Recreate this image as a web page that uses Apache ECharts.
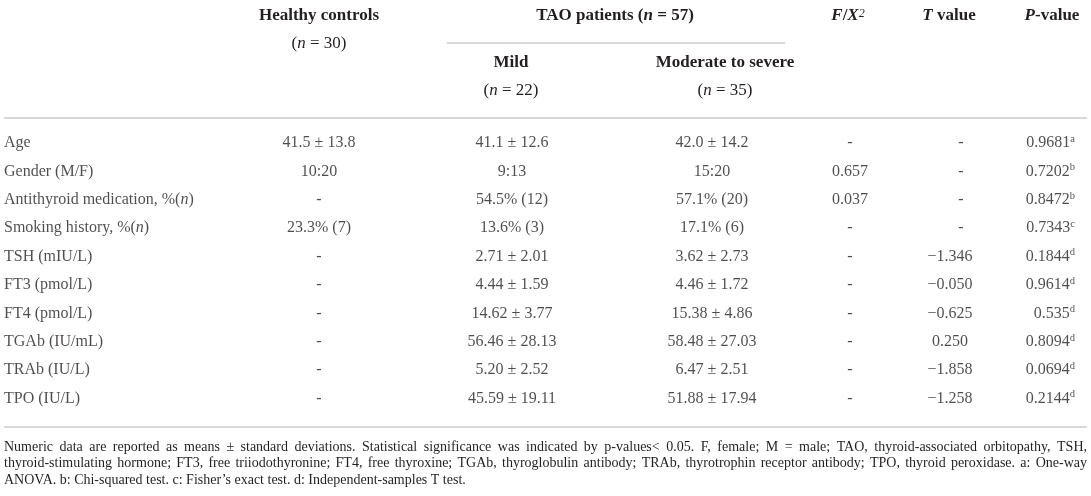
<!DOCTYPE html>
<html><head><meta charset="utf-8">
<script src="https://cdn.jsdelivr.net/npm/echarts@6/dist/echarts.min.js"></script>
<style>html,body{margin:0;padding:0;background:#fff}#c{width:1091px;height:496px}</style>
</head><body><div id="c"></div>
<script>
// ---------- data ----------
const rowLabels = ['Age','Gender (M/F)','Antithyroid medication, %(n)','Smoking history, %(n)','TSH (mIU/L)','FT3 (pmol/L)','FT4 (pmol/L)','TGAb (IU/mL)','TRAb (IU/L)','TPO (IU/L)'];
const healthyControls = ['41.5 ± 13.8','10:20','-','23.3% (7)','-','-','-','-','-','-'];
const mildTAO = ['41.1 ± 12.6','9:13','54.5% (12)','13.6% (3)','2.71 ± 2.01','4.44 ± 1.59','14.62 ± 3.77','56.46 ± 28.13','5.20 ± 2.52','45.59 ± 19.11'];
const moderateSevereTAO = ['42.0 ± 14.2','15:20','57.1% (20)','17.1% (6)','3.62 ± 2.73','4.46 ± 1.72','15.38 ± 4.86','58.48 ± 27.03','6.47 ± 2.51','51.88 ± 17.94'];
const fX2Values = ['-','0.657','0.037','-','-','-','-','-','-','-'];
const tValues = ['-','-','-','-','−1.346','−0.050','−0.625','0.250','−1.858','−1.258'];
const pValues = ['0.9681','0.7202','0.8472','0.7343','0.1844','0.9614','0.535','0.8094','0.0694','0.2144'];
const pTests = ['a','b','b','c','d','d','d','d','d','d'];
const footnoteLines = [
  'Numeric data are reported as means ± standard deviations. Statistical significance was indicated by p-values< 0.05. F, female; M = male; TAO, thyroid-associated orbitopathy, TSH,',
  'thyroid-stimulating hormone; FT3, free triiodothyronine; FT4, free thyroxine; TGAb, thyroglobulin antibody; TRAb, thyrotrophin receptor antibody; TPO, thyroid peroxidase. a: One-way',
  'ANOVA. b: Chi-squared test. c: Fisher’s exact test. d: Independent-samples T test.'
];

// ---------- layout / style ----------
const W = 1091, H = 496;
const FONT = "'Liberation Serif','Times New Roman',serif";
const INK = '#231f20';
const RULE = '#cbcbcb';
const FS = 16;
const HFS = 17;
const NFS = 14;
const COL_X = {label: 4, healthy: 319, mild: 512, moderate: 712, fx2: 850, t: 950, p: 1075};
const ROW_TOP = 128.8, ROW_H = 28.4;
const TABLE_L = 4, TABLE_R = 1087;

const baseRich = {
  i: {fontFamily: FONT, fontSize: FS, fontStyle: 'italic', color: INK},
  s: {fontFamily: FONT, fontSize: 10.5, color: INK, verticalAlign: 'top', lineHeight: 12},
  v: {fontFamily: FONT, fontSize: FS, color: INK, lineHeight: 19}
};

function cellSeries(values, x, align, fmt, dashOffset) {
  return {
    type: 'scatter',
    symbolSize: 1,
    itemStyle: {color: 'rgba(0,0,0,0)'},
    silent: true,
    data: values.map((v, i) => {
      const d = {value: [x, rowLabels[i]]};
      if (dashOffset && v === '-') d.label = {offset: [dashOffset, 0]};
      return d;
    }),
    label: {
      show: true,
      position: 'inside',
      align: align,
      verticalAlign: 'middle',
      fontFamily: FONT,
      fontSize: FS,
      color: INK,
      rich: baseRich,
      formatter: p => fmt ? fmt(p.dataIndex) : values[p.dataIndex]
    }
  };
}

const series = [
  cellSeries(rowLabels, COL_X.label, 'left', i => rowLabels[i].replace('(n)', '({i|n})')),
  cellSeries(healthyControls, COL_X.healthy, 'center'),
  cellSeries(mildTAO, COL_X.mild, 'center'),
  cellSeries(moderateSevereTAO, COL_X.moderate, 'center'),
  cellSeries(fX2Values, COL_X.fx2, 'center'),
  cellSeries(tValues, COL_X.t, 'center', null, 11),
  cellSeries(pValues, COL_X.p, 'right', i => '{v|' + pValues[i] + '}{s|' + pTests[i] + '}')
];

const hdrRich = {
  b: {fontFamily: FONT, fontSize: HFS, fontWeight: 'bold', fill: INK},
  bi: {fontFamily: FONT, fontSize: HFS, fontWeight: 'bold', fontStyle: 'italic', fill: INK},
  i: {fontFamily: FONT, fontSize: HFS, fontStyle: 'italic', fill: INK},
  r: {fontFamily: FONT, fontSize: HFS, fill: INK},
  sup: {fontFamily: FONT, fontSize: 12, fontStyle: 'italic', fill: INK, verticalAlign: 'top', lineHeight: 13}
};
function hText(x, y, text) {
  return {type: 'text', x: x, y: y, silent: true,
    style: {text: text, rich: hdrRich, align: 'center', verticalAlign: 'middle', fontFamily: FONT, fontSize: HFS, fill: INK}};
}
function hLine(x1, x2, y) {
  return {type: 'line', silent: true, shape: {x1: x1, y1: y, x2: x2, y2: y}, style: {stroke: RULE, lineWidth: 1.6}};
}

// justified footnote: word positions computed from measured text widths
const measureCtx = document.createElement('canvas').getContext('2d');
measureCtx.font = NFS + 'px ' + FONT;
function footnoteElements(lines, y0, lh) {
  const els = [];
  lines.forEach((line, k) => {
    const y = y0 + k * lh;
    const last = k === lines.length - 1;
    if (last) {
      els.push({type: 'text', x: TABLE_L, y: y, silent: true,
        style: {text: line, align: 'left', verticalAlign: 'middle', fontFamily: FONT, fontSize: NFS, fill: INK}});
      return;
    }
    const words = line.split(' ');
    const widths = words.map(w => measureCtx.measureText(w).width);
    const total = widths.reduce((a, b) => a + b, 0);
    const gap = (TABLE_R - TABLE_L - total) / (words.length - 1);
    let x = TABLE_L;
    words.forEach((w, j) => {
      els.push({type: 'text', x: x, y: y, silent: true,
        style: {text: w, align: 'left', verticalAlign: 'middle', fontFamily: FONT, fontSize: NFS, fill: INK}});
      x += widths[j] + gap;
    });
  });
  return els;
}

const graphic = [
  hText(319, 16, '{b|Healthy controls}'),
  hText(319, 44, '{r|(}{i|n}{r| = 30)}'),
  hText(615, 16, '{b|TAO patients (}{bi|n}{b| = 57)}'),
  hLine(447, 785, 43),
  hText(511, 63, '{b|Mild}'),
  hText(511, 91, '{r|(}{i|n}{r| = 22)}'),
  hText(725, 63, '{b|Moderate to severe}'),
  hText(725, 91, '{r|(}{i|n}{r| = 35)}'),
  hText(848, 16, '{bi|F}{b|/}{bi|X}{sup|2}'),
  hText(949, 16, '{bi|T}{b| value}'),
  hText(1052, 16, '{bi|P}{b|-value}'),
  hLine(TABLE_L, TABLE_R, 118),
  hLine(TABLE_L, TABLE_R, 427)
].concat(footnoteElements(footnoteLines, 447, 16.5));

const chart = echarts.init(document.getElementById('c'), null, {renderer: 'canvas'});
chart.setOption({
  animation: false,
  backgroundColor: '#fff',
  grid: {left: 0, right: 0, top: ROW_TOP, height: ROW_H * rowLabels.length},
  xAxis: {type: 'value', min: 0, max: W, show: false},
  yAxis: {type: 'category', data: rowLabels, inverse: true, show: false},
  series: series,
  graphic: graphic
});
</script>
</body></html>
